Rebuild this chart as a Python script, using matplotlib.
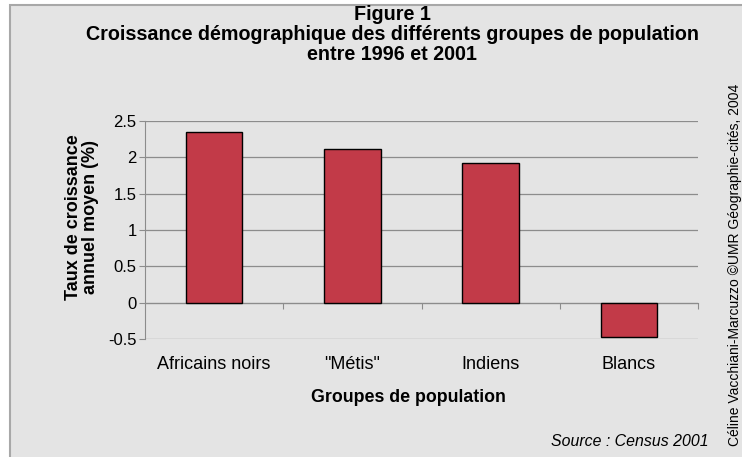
import matplotlib
matplotlib.use("Agg")
import matplotlib.pyplot as plt
import matplotlib.transforms as mtransforms
from matplotlib.patches import Rectangle
import numpy as np

plt.rcParams['font.family'] = ['Liberation Sans', 'DejaVu Sans']

groupes = ['Africains noirs', '"Métis"', 'Indiens', 'Blancs']
croissance = [2.35, 2.12, 1.92, -0.47]
yticks = [-0.5, 0, 0.5, 1, 1.5, 2, 2.5]
ytick_labels = ['-0.5', '0', '0.5', '1', '1.5', '2', '2.5']

bg = '#e4e4e4'
grid_col = '#8c8c8c'

fig = plt.figure(figsize=(7.42, 4.57), dpi=100, facecolor='white')

# panneau gris avec bordure
fig.patches.append(Rectangle((10 / 742, -0.01), 1.0, (457 - 5) / 457 + 0.01,
                             transform=fig.transFigure, facecolor=bg,
                             edgecolor='#a8a8a8', linewidth=1.5, zorder=-5))

ax = fig.add_axes([145 / 742, (457 - 339) / 457, (698 - 145) / 742, (339 - 121) / 457])
ax.set_facecolor(bg)

x = np.arange(len(groupes))
ax.bar(x, croissance, width=0.41, color='#c23a48', edgecolor='black',
       linewidth=1.0, zorder=3)

ax.set_xlim(-0.5, len(groupes) - 0.5)
ax.set_ylim(-0.5, 2.5)
ax.set_yticks(yticks)
ax.set_yticklabels(ytick_labels, fontsize=12)
ax.yaxis.grid(True, color=grid_col, linewidth=0.9, zorder=1)
ax.tick_params(axis='y', length=4, color=grid_col, pad=2)

for s in ['top', 'right']:
    ax.spines[s].set_visible(False)
ax.spines['left'].set_color(grid_col)
ax.spines['bottom'].set_position(('data', 0))
ax.spines['bottom'].set_color(grid_col)
ax.spines['bottom'].set_zorder(2)

# graduations entre les groupes
ax.set_xticks(np.arange(len(groupes)) + 0.5)
ax.set_xticklabels([])
ax.tick_params(axis='x', length=4, color=grid_col, direction='out')

trans = mtransforms.blended_transform_factory(ax.transData, ax.transAxes)
for xi, g in zip(x, groupes):
    ax.text(xi, -0.115, g, transform=trans, ha='center', va='center', fontsize=13)

ax.set_ylabel('Taux de croissance\nannuel moyen (%)', fontsize=13,
              fontweight='bold', linespacing=1.0)
ax.yaxis.set_label_coords(-0.083, 0.56)

fig.text(408 / 742, 1 - 397 / 457, 'Groupes de population', ha='center',
         va='center', fontsize=12.8, fontweight='bold')

title_size = 14.2
fig.text(392 / 742, 1 - 15 / 457, 'Figure 1', ha='center', va='center',
         fontsize=title_size, fontweight='bold')
fig.text(392 / 742, 1 - 34 / 457,
         'Croissance démographique des différents groupes de population',
         ha='center', va='center', fontsize=title_size, fontweight='bold')
fig.text(392 / 742, 1 - 54 / 457, 'entre 1996 et 2001', ha='center',
         va='center', fontsize=title_size, fontweight='bold')

fig.text(709 / 742, 1 - 441 / 457, 'Source : Census 2001', ha='right',
         va='center', fontsize=11.4, fontstyle='italic')

fig.text(735 / 742, 1 - 265 / 457,
         'Céline Vacchiani-Marcuzzo ©UMR Géographie-cités, 2004',
         ha='center', va='center', rotation=90, fontsize=10)

fig.savefig('out.png', dpi=100, facecolor='white')
